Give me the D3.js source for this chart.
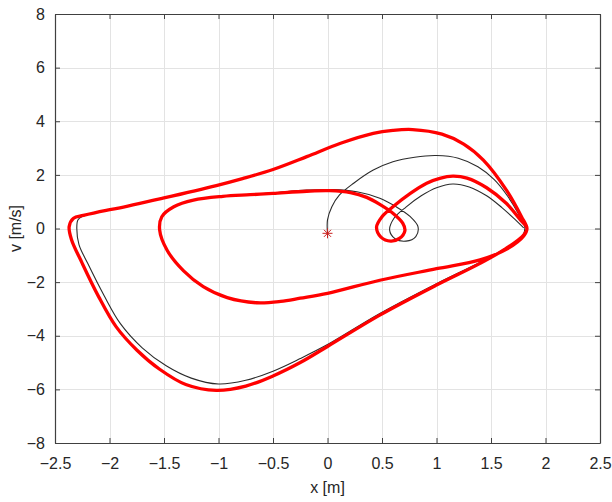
<!DOCTYPE html>
<html>
<head>
<meta charset="utf-8">
<script src="https://cdn.jsdelivr.net/npm/d3@7"></script>
<style>
  html, body { margin: 0; padding: 0; background: #fff; }
  svg { display: block; }
  text { font-family: "Liberation Sans", Arial, Helvetica, sans-serif; fill: #262626; }
</style>
</head>
<body>
<svg id="chart" width="612" height="502"></svg>
<script>
// Phase-plane samples [x (m), v (m/s)]

// Steady-state orbit: right tip -> upper return branch -> inner loop -> small loop -> inner arc
const orbitInner = [
  [1.83, 0.00], [1.80, -0.28], [1.64, -0.78], [1.40, -1.17], [1.00, -1.50], [0.48, -1.93],
  [0.00, -2.42], [-0.25, -2.60], [-0.43, -2.72], [-0.65, -2.77], [-0.92, -2.58], [-1.14, -2.17],
  [-1.32, -1.58], [-1.47, -0.82], [-1.54, -0.05], [-1.52, 0.44], [-1.41, 0.81], [-1.23, 1.06],
  [-0.96, 1.20], [-0.71, 1.26], [-0.50, 1.31], [-0.19, 1.39], [0.02, 1.41], [0.21, 1.34],
  [0.36, 1.16], [0.48, 0.90], [0.60, 0.57], [0.69, 0.20], [0.71, -0.08], [0.66, -0.37],
  [0.58, -0.47], [0.49, -0.32], [0.45, 0.05], [0.50, 0.44], [0.60, 0.81], [0.76, 1.31],
  [0.91, 1.69], [1.03, 1.87], [1.15, 1.95], [1.28, 1.88], [1.46, 1.52], [1.64, 0.94], [1.77, 0.32]
];

// Steady-state orbit: right tip -> lower branch -> outer bottom -> left tip -> outer arc
const orbitOuter = [
  [1.83, 0.00], [1.80, -0.24], [1.64, -0.74], [1.40, -1.30], [1.00, -2.11], [0.48, -3.23],
  [0.00, -4.40], [-0.25, -5.00], [-0.50, -5.50], [-0.75, -5.88], [-1.02, -6.04], [-1.30, -5.82],
  [-1.54, -5.25], [-1.75, -4.53], [-1.94, -3.66], [-2.10, -2.54], [-2.25, -1.30], [-2.35, -0.40],
  [-2.37, 0.07], [-2.33, 0.38], [-2.24, 0.49], [-2.03, 0.68], [-1.93, 0.75], [-1.51, 1.13],
  [-1.02, 1.60], [-0.78, 1.86], [-0.50, 2.20], [-0.19, 2.68], [0.12, 3.18], [0.42, 3.55],
  [0.60, 3.66], [0.78, 3.69], [1.05, 3.52], [1.25, 3.15], [1.43, 2.55], [1.64, 1.44], [1.78, 0.44]
];

// Transient from the initial state: first lap
const transientFirst = [
  [0.00, -0.18], [0.00, 0.32], [0.04, 0.81], [0.11, 1.25], [0.24, 1.69], [0.42, 2.18],
  [0.60, 2.49], [0.80, 2.66], [1.00, 2.72], [1.20, 2.62], [1.38, 2.30], [1.53, 1.82],
  [1.65, 1.22], [1.75, 0.56], [1.81, 0.05], [1.79, -0.26], [1.64, -0.72],
  [1.40, -1.26], [1.00, -2.06], [0.48, -3.17], [0.00, -4.33], [-0.25, -4.85], [-0.50, -5.32],
  [-0.75, -5.66], [-1.00, -5.80], [-1.25, -5.58], [-1.48, -5.12], [-1.70, -4.45], [-1.90, -3.55],
  [-2.05, -2.50], [-2.20, -1.30], [-2.28, -0.60], [-2.30, 0.00], [-2.29, 0.32], [-2.25, 0.45],
  [-2.03, 0.68], [-1.93, 0.75], [-1.51, 1.13], [-1.02, 1.60], [-0.78, 1.86], [-0.50, 2.20],
  [-0.19, 2.68], [0.12, 3.18], [0.42, 3.55], [0.60, 3.66], [0.78, 3.69], [1.05, 3.52],
  [1.25, 3.15], [1.43, 2.55], [1.64, 1.44], [1.78, 0.44]
];

// Transient: second lap through the inner loop and its own small loop
const transientSecond = [
  [1.83, 0.00], [1.80, -0.28], [1.64, -0.78], [1.40, -1.17], [1.00, -1.50], [0.48, -1.93],
  [0.00, -2.42], [-0.25, -2.60], [-0.43, -2.72], [-0.65, -2.77], [-0.92, -2.58], [-1.14, -2.17],
  [-1.32, -1.58], [-1.47, -0.82], [-1.54, -0.05], [-1.52, 0.44], [-1.41, 0.81], [-1.23, 1.06],
  [-0.96, 1.21], [-0.71, 1.27], [-0.50, 1.33], [-0.19, 1.43], [0.05, 1.45], [0.27, 1.37],
  [0.48, 1.13], [0.63, 0.81], [0.76, 0.44], [0.83, 0.07], [0.81, -0.30], [0.72, -0.47],
  [0.62, -0.38], [0.57, -0.06], [0.61, 0.38], [0.72, 0.80], [0.86, 1.22], [1.00, 1.52],
  [1.15, 1.66], [1.30, 1.55], [1.46, 1.22], [1.60, 0.78], [1.72, 0.34], [1.80, 0.02]
];

// Initial state marker
const startPoint = [0.00, -0.18];

// Axis ticks
const xTicks = [-2.5, -2, -1.5, -1, -0.5, 0, 0.5, 1, 1.5, 2, 2.5];
const yTicks = [-8, -6, -4, -2, 0, 2, 4, 6, 8];
const xLabel = "x [m]";
const yLabel = "v [m/s]";

const plot = { left: 55, right: 600, top: 14, bottom: 443 };

const svg = d3.select("#chart");
const xScale = d3.scaleLinear().domain([-2.5, 2.5]).range([plot.left, plot.right]);
const yScale = d3.scaleLinear().domain([-8, 8]).range([plot.bottom, plot.top]);

// Grid
const grid = svg.append("g").attr("stroke", "#e3e3e3").attr("stroke-width", 1);
grid.selectAll("line.gx").data(xTicks).join("line").attr("class", "gx")
  .attr("x1", d => Math.round(xScale(d)) + 0.5).attr("x2", d => Math.round(xScale(d)) + 0.5)
  .attr("y1", plot.top).attr("y2", plot.bottom);
grid.selectAll("line.gy").data(yTicks).join("line").attr("class", "gy")
  .attr("y1", d => Math.round(yScale(d)) + 0.5).attr("y2", d => Math.round(yScale(d)) + 0.5)
  .attr("x1", plot.left).attr("x2", plot.right);

// Curves
const openLine = d3.line().x(d => xScale(d[0])).y(d => yScale(d[1]))
  .curve(d3.curveCatmullRom.alpha(0.5));
const closedLine = d3.line().x(d => xScale(d[0])).y(d => yScale(d[1]))
  .curve(d3.curveCatmullRomClosed.alpha(0.5));

const curves = svg.append("g").attr("fill", "none");
curves.append("path").attr("d", openLine(transientFirst.concat(transientSecond)))
  .attr("stroke", "#2b2b2b").attr("stroke-width", 1.1).attr("stroke-linejoin", "round");
curves.append("path").attr("d", closedLine(orbitInner.concat(orbitOuter)))
  .attr("stroke", "#ff0000").attr("stroke-width", 3.3).attr("stroke-linejoin", "round");

// Star marker at initial state
const sx = xScale(startPoint[0]), sy = yScale(startPoint[1]), rStar = 5;
const star = svg.append("g").attr("stroke", "#c8201e").attr("stroke-width", 1);
[[0, 1], [1, 0], [0.7071, 0.7071], [0.7071, -0.7071]].forEach(([dx, dy]) => {
  star.append("line")
    .attr("x1", sx - dx * rStar).attr("y1", sy - dy * rStar)
    .attr("x2", sx + dx * rStar).attr("y2", sy + dy * rStar);
});

// Axes (box with inward ticks on all four sides)
const axisColor = "#404040";
const tickLen = 5;
const axes = svg.append("g");

const axBottom = axes.append("g").attr("transform", `translate(0,${plot.bottom})`)
  .call(d3.axisBottom(xScale).tickValues(xTicks).tickSizeInner(-tickLen).tickSizeOuter(0)
    .tickPadding(15).tickFormat(d3.format("")));
const axLeft = axes.append("g").attr("transform", `translate(${plot.left},0)`)
  .call(d3.axisLeft(yScale).tickValues(yTicks).tickSizeInner(-tickLen).tickSizeOuter(0)
    .tickPadding(10).tickFormat(d3.format("")));
const axTop = axes.append("g").attr("transform", `translate(0,${plot.top})`)
  .call(d3.axisTop(xScale).tickValues(xTicks).tickSizeInner(-tickLen).tickSizeOuter(0).tickFormat(""));
const axRight = axes.append("g").attr("transform", `translate(${plot.right},0)`)
  .call(d3.axisRight(yScale).tickValues(yTicks).tickSizeInner(-tickLen).tickSizeOuter(0).tickFormat(""));

[axBottom, axLeft, axTop, axRight].forEach(g => {
  g.selectAll(".domain").attr("stroke", axisColor).attr("stroke-width", 1.2);
  g.selectAll(".tick line").attr("stroke", axisColor);
  g.selectAll(".tick text").attr("font-size", 16).attr("fill", "#333333")
    .attr("font-family", "\"Liberation Sans\", Arial, sans-serif");
});

// Axis titles
svg.append("text").attr("x", (plot.left + plot.right) / 2).attr("y", 493)
  .attr("text-anchor", "middle").attr("font-size", 16).attr("fill", "#333333").text(xLabel);
svg.append("text")
  .attr("transform", `translate(21,${(plot.top + plot.bottom) / 2}) rotate(-90)`)
  .attr("text-anchor", "middle").attr("font-size", 16).attr("fill", "#333333").text(yLabel);
</script>
</body>
</html>
